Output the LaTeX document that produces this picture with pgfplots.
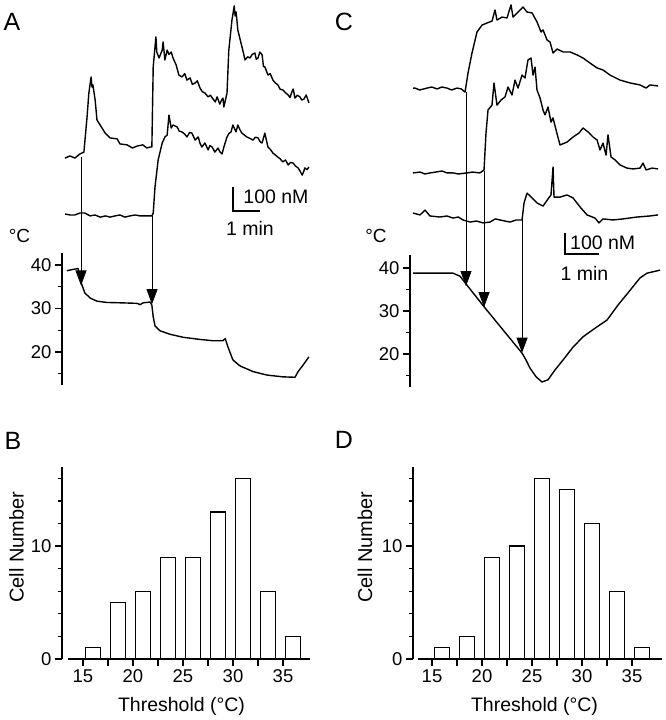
\documentclass[border=0pt]{standalone}
\usepackage{fontspec}
\setmainfont{Liberation Sans}
\usepackage{pgfplots}
\pgfplotsset{compat=1.18}
\usetikzlibrary{arrows.meta}

\pgfplotsset{
  trace/.style={black, line width=1.4pt, line join=round, no marks},
  tempaxis/.style={
    scale only axis, anchor=south west, clip=false,
    axis x line=none, axis y line=left, xtick=\empty,
    axis line style={-, line width=1.3pt},
    ytick={20,30,40}, minor ytick={15,25,35},
    tick align=outside, major tick length=7pt, minor tick length=4pt,
    tick style={black, line width=1.3pt},
    yticklabel style={font=\fontsize{18.5}{18.5}\selectfont},
    /pgf/number format/assume math mode=true},
  histaxis/.style={
    scale only axis, anchor=south west, clip=false,
    ymin=0, ymax=17,
    axis x line=bottom, axis y line=left,
    axis line style={-, line width=1.3pt},
    xtick={15,17.5,...,35}, xticklabels={15,,20,,25,,30,,35},
    ytick={0,10}, minor ytick={2,4,6,8,12,14,16},
    tick align=outside, major tick length=7pt, minor tick length=4pt,
    tick style={black, line width=1.3pt},
    ticklabel style={font=\fontsize{18.5}{18.5}\selectfont},
    /pgf/number format/assume math mode=true,
    ybar, bar width=1.5},
  bars/.style={fill=white, draw=black, line width=1.4pt}
}
\tikzset{arr/.style={line width=0.7pt, -{Triangle[width=11pt,length=15pt]}}}

\begin{document}
\begin{tikzpicture}
\useasboundingbox (0pt,0pt) rectangle (665pt,-720pt);

% ================= Panel A: calcium traces =================
\begin{axis}[at={(62pt,-220pt)}, anchor=south west, scale only axis,
  width=248pt, height=220pt, xmin=-6.67, xmax=544.4, ymin=0, ymax=916.7,
  hide axis, clip=false]
\addplot[trace] coordinates {(0,258) (11,267) (22,258) (33,275) (42,283) (49,429) (53,529) (58,596) (60,554) (62,563) (67,500) (71,417) (78,396) (89,363) (100,342) (116,338) (122,317) (138,313) (150,300) (160,308) (173,313) (182,300) (189,304) (193,304) (196,638) (202,763) (204,700) (209,675) (216,708) (218,742) (222,667) (227,708) (231,690) (236,700) (240,675) (247,646) (253,604) (260,596) (266,610) (271,583) (278,592) (283,565) (289,571) (294,580) (300,550) (305,535) (311,529) (318,513) (323,520) (329,504) (334,492) (338,513) (344,483) (348,500) (351,508) (353,471) (360,529) (364,708) (371,833) (376,892) (378,850) (380,867) (382,833) (384,792) (391,738) (396,700) (400,667) (406,680) (411,675) (416,690) (422,696) (425,670) (429,675) (433,700) (438,688) (441,640) (444,638) (451,604) (456,610) (462,583) (468,570) (473,563) (478,545) (484,542) (490,530) (496,521) (500,510) (504,533) (507,546) (511,508) (516,520) (522,513) (526,500) (531,504) (536,521) (542,488)};
\addplot[trace] coordinates {(0,25) (11,21) (22,21) (33,29) (44,29) (56,17) (67,21) (78,12) (90,17) (100,12) (111,17) (122,21) (133,12) (144,17) (156,21) (167,17) (178,17) (193,17) (196,29) (200,138) (207,250) (216,321) (222,346) (227,354) (231,437) (236,383) (240,396) (249,388) (254,370) (260,367) (266,358) (271,346) (277,365) (282,362) (289,333) (296,346) (300,320) (304,304) (311,321) (318,292) (322,310) (327,304) (333,283) (340,300) (344,285) (349,275) (353,304) (360,346) (364,360) (369,367) (373,396) (378,375) (380,367) (384,396) (389,375) (393,362) (398,355) (404,346) (411,340) (418,333) (423,345) (429,342) (434,325) (438,321) (444,362) (451,304) (456,295) (462,279) (468,270) (473,262) (478,255) (484,242) (490,250) (496,229) (501,240) (507,237) (512,225) (518,217) (522,205) (527,187) (530,200) (533,217) (538,210) (542,221)};
\draw[line width=1.2pt] (axis cs:373.3,137.5) -- (axis cs:373.3,37.5) -- (axis cs:433.3,37.5);
\node[anchor=west, inner sep=0pt, font=\fontsize{19.5}{19.5}\selectfont] at (axis cs:396,96) {100 nM};
\node[inner sep=0pt, font=\fontsize{19.5}{19.5}\selectfont] at (axis cs:411,-35) {1 min};
\coordinate (A1s) at (axis cs:35.6,262);
\coordinate (A2s) at (axis cs:193.3,17);
\end{axis}

% ================= Panel A: temperature =================
\begin{axis}[tempaxis, at={(62pt,-385.1pt)}, width=248pt, height=131.8pt,
  xmin=-6.67, xmax=544.4, ymin=12.4, ymax=42.7]
\addplot[trace] coordinates {(4,38.7) (18,39.0) (29,39.2) (31,38.2) (36,35.9) (44,33.6) (56,32.4) (71,31.7) (93,31.4) (129,31.3) (160,31.2) (167,30.9) (173,31.3) (189,31.5) (193,30.8) (196,28.1) (200,26.0) (211,24.9) (233,24.1) (262,23.4) (300,22.9) (329,22.6) (351,22.6) (356,23.1) (362,21.2) (373,18.2) (389,16.8) (418,15.5) (449,14.7) (484,14.3) (511,14.2) (518,15.5) (529,17.0) (542,18.9)};
\coordinate (A1e) at (axis cs:35.6,35.3);
\coordinate (A2e) at (axis cs:193.3,31.0);
\end{axis}
\draw[arr] (A1s) -- (A1e);
\draw[arr] (A2s) -- (A2e);

% ================= Panel C: calcium traces =================
\begin{axis}[at={(410pt,-225pt)}, anchor=south west, scale only axis,
  width=250.1pt, height=225pt, xmin=-5.3, xmax=436, ymin=0, ymax=1071.4,
  hide axis, clip=false]
\addplot[trace] coordinates {(0,652) (3.5,652) (12,643) (24.7,652) (33,657) (42.4,648) (51,657) (60,652) (68,643) (77.6,652) (85,648) (91.8,633) (97.1,724) (104.1,819) (112.9,919) (121.8,952) (130.6,962) (139.4,971) (144.7,1024) (148.2,976) (157.1,990) (165.9,986) (172.9,1048) (176.5,990) (185.3,1014) (194.1,1038) (201.2,1014) (210,1010) (218.8,967) (225.9,919) (229.4,929) (236.5,881) (241.8,871) (247.1,819) (254.1,838) (264.7,824) (277.1,824) (289.4,810) (300,795) (312.4,771) (324.7,748) (335.3,738) (347.6,714) (365.3,690) (383.5,676) (400.6,667) (411.2,652) (418.2,667) (432.4,662)};
\addplot[trace] coordinates {(0,248) (12.4,252) (21,243) (30,248) (40,252) (51.2,257) (60,248) (70.6,248) (80,243) (95.3,248) (105,252) (118.2,248) (125.3,262) (128.8,438) (132.4,548) (139.4,571) (142.9,676) (148.2,571) (155.3,595) (162.4,610) (167.6,657) (174.7,619) (180,690) (185.3,652) (192.4,714) (197.6,700) (202.9,786) (208.2,795) (211.8,714) (215.3,752) (218.8,643) (224.1,605) (229.4,548) (232.9,524) (238.2,562) (243.5,490) (247.1,510) (252.4,452) (259.4,381) (271.8,395) (282.4,419) (292.9,438) (300,462) (308.8,443) (317.6,419) (324.7,405) (330,357) (335.3,390) (340.6,333) (344.1,429) (349.4,324) (356.5,310) (365.3,286) (377.6,271) (388.2,267) (400.6,271) (405.9,295) (411.2,262) (421.8,271) (432.4,267)};
\addplot[trace] coordinates {(0,57) (12.4,48) (21.2,71) (30,43) (47.6,38) (60,43) (70.6,33) (80,38) (88.2,24) (100.6,14) (112,19) (123.5,10) (135.9,14) (145,29) (153.5,24) (162,19) (171.2,14) (182,24) (192.4,24) (195.9,105) (201.2,152) (210,129) (218.8,105) (229.4,90) (238.2,124) (243.5,143) (247.1,276) (248.8,133) (259.4,133) (271.8,143) (282.4,129) (294.7,86) (307.1,48) (321.2,33) (328.2,10) (335.3,29) (352.9,24) (370.6,29) (395.3,38) (418.2,43) (432.4,48)};
\draw[line width=1.2pt] (axis cs:268.2,-38) -- (axis cs:268.2,-138) -- (axis cs:328.2,-138);
\node[anchor=west, inner sep=0pt, font=\fontsize{19.5}{19.5}\selectfont] at (axis cs:277,-83) {100 nM};
\node[inner sep=0pt, font=\fontsize{19.5}{19.5}\selectfont] at (axis cs:302.6,-231) {1 min};
\coordinate (C1s) at (axis cs:93.5,633);
\coordinate (C2s) at (axis cs:125.3,257);
\coordinate (C3s) at (axis cs:192.4,24);
\end{axis}

% ================= Panel C: temperature =================
\begin{axis}[tempaxis, at={(410pt,-387.1pt)}, width=250.1pt, height=132pt,
  xmin=-5.3, xmax=436, ymin=12.3, ymax=43]
\addplot[trace] coordinates {(0,38.8) (70.6,38.8) (82.9,38.1) (95.3,36.0) (125.3,31.0) (192.4,20.2) (199.4,18.6) (206.5,16.7) (217.1,14.7) (227.6,13.5) (238.2,14.0) (250.6,16.3) (264.7,18.6) (282.4,21.6) (300,24.0) (321.2,26.0) (342.4,27.9) (361.8,31.4) (383.5,34.9) (400.6,37.7) (413,38.8) (435.9,39.5)};
\coordinate (C1e) at (axis cs:93.5,35.8);
\coordinate (C2e) at (axis cs:125.3,30.9);
\coordinate (C3e) at (axis cs:192.4,20.3);
\end{axis}
\draw[arr] (C1s) -- (C1e);
\draw[arr] (C2s) -- (C2e);
\draw[arr] (C3s) -- (C3e);

% ================= Panel B histogram =================
\begin{axis}[histaxis, at={(62pt,-659pt)}, width=248pt, height=192pt,
  xmin=12.9, xmax=37.7, x axis line style={shorten <=6pt}]
\addplot[bars] coordinates {(16,1) (18.5,5) (21,6) (23.5,9) (26,9) (28.5,13) (31,16) (33.5,6) (36,2)};
\end{axis}

% ================= Panel D histogram =================
\begin{axis}[histaxis, at={(413pt,-659pt)}, width=249pt, height=192pt,
  xmin=13.1, xmax=38, x axis line style={shorten <=5pt}]
\addplot[bars] coordinates {(16,1) (18.5,2) (21,9) (23.5,10) (26,16) (28.5,15) (31,12) (33.5,6) (36,1)};
\end{axis}

% ================= Labels =================
\begin{scope}[every node/.style={inner sep=0pt}]
\node[font=\fontsize{25}{25}\selectfont] at (12pt,-22pt) {A};
\node[font=\fontsize{25}{25}\selectfont] at (344pt,-22pt) {C};
\node[font=\fontsize{25}{25}\selectfont] at (13pt,-441pt) {B};
\node[font=\fontsize{25}{25}\selectfont] at (344pt,-440pt) {D};
\node[font=\fontsize{19}{19}\selectfont] at (19.5pt,-236pt) {°C};
\node[font=\fontsize{19}{19}\selectfont] at (376pt,-236pt) {°C};
\node[rotate=90, font=\fontsize{20}{20}\selectfont] at (16.5pt,-547pt) {Cell Number};
\node[rotate=90, font=\fontsize{20}{20}\selectfont] at (365pt,-547pt) {Cell Number};
\node[font=\fontsize{19.5}{19.5}\selectfont] at (181.5pt,-706pt) {Threshold (°C)};
\node[font=\fontsize{19.5}{19.5}\selectfont] at (534.5pt,-706pt) {Threshold (°C)};
\end{scope}
\end{tikzpicture}
\end{document}
